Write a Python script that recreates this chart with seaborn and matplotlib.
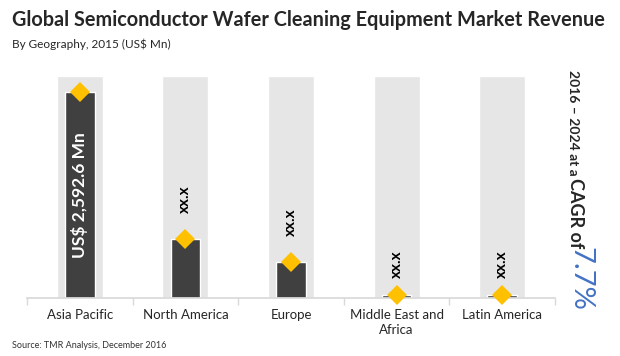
import matplotlib
matplotlib.use("Agg")
import matplotlib.pyplot as plt
import seaborn as sns
import pandas as pd

regions = ["Asia Pacific", "North America", "Europe", "Middle East and\nAfrica", "Latin America"]
revenue = [2592.6, 743, 453, 35, 35]
scale_max = 2794
labels = ["US$ 2,592.6 Mn", "xx.x", "xx.x", "xx.x", "xx.x"]
label_y = [1300, 1240, 960, 430, 430]

df = pd.DataFrame({"region": regions, "revenue": revenue,
                   "background": [scale_max] * len(regions)})

sns.set_theme(style="white")
plt.rcParams["font.family"] = ["Lato", "DejaVu Sans"]

W, H = 620, 356
fig = plt.figure(figsize=(W / 100, H / 100), dpi=100)
ax = fig.add_axes([27 / W, 1 - 298 / H, (555 - 27) / W, (298 - 76) / H])

sns.barplot(data=df, x="region", y="background", color="#e6e6e6",
            width=0.435, saturation=1, ax=ax)
sns.barplot(data=df, x="region", y="revenue", color="#404040",
            width=0.28, saturation=1, ax=ax)
ax.plot(range(len(regions)), revenue, linestyle="none", marker="D",
        markersize=10, color="#ffc000", markeredgewidth=0, clip_on=False, zorder=5)

for i, (txt, yv) in enumerate(zip(labels, label_y)):
    if i == 0:
        ax.text(i, yv, txt, rotation=90, ha="center", va="center",
                color="white", fontsize=12.5, fontweight="bold")
    else:
        ax.text(i, yv, txt, rotation=90, ha="center", va="center",
                color="black", fontsize=11, fontweight="bold")

ax.set_ylim(0, scale_max)
ax.set_xlim(-0.5, len(regions) - 0.5)
ax.set_yticks([])
ax.set_xlabel("")
ax.set_ylabel("")
for s in ["top", "right", "left"]:
    ax.spines[s].set_visible(False)
ax.spines["bottom"].set_color("#d9d9d9")
ax.set_xticks([i - 0.5 for i in range(len(regions) + 1)], minor=True)
ax.tick_params(axis="x", which="major", length=0, labelsize=9.5, pad=8)
ax.tick_params(axis="x", which="minor", length=5, color="#d9d9d9", bottom=True)
ax.set_xticks(range(len(regions)))
ax.set_xticklabels(regions, linespacing=1.3)

fig.text(12 / W, 1 - 20 / H, "Global Semiconductor Wafer Cleaning Equipment Market Revenue",
         fontsize=14.3, fontweight="bold", va="center", ha="left")
fig.text(12 / W, 1 - 44 / H, "By Geography, 2015 (US$ Mn)", fontsize=8.5, va="center", ha="left")
fig.text(12 / W, 1 - 346 / H, "Source: TMR Analysis, December 2016", fontsize=6.5,
         va="center", ha="left", color="#333333")

fig.text(573 / W, 1 - 70 / H, "2016 – 2024 at a", rotation=-90, fontsize=10,
         fontweight="bold", ha="center", va="top")
fig.text(575 / W, 1 - 178 / H, "CAGR of", rotation=-90, fontsize=13,
         fontweight="bold", ha="center", va="top")
fig.text(580 / W, 1 - 247 / H, "7.7%", rotation=-90, fontsize=21,
         color="#4472c4", ha="center", va="top")

fig.savefig("out.png", dpi=100)
